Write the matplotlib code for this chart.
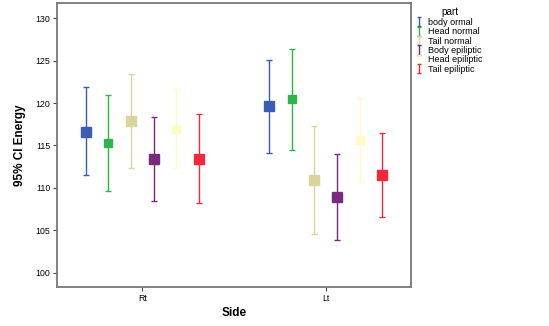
import numpy as np
import matplotlib.pyplot as plt

plt.rcParams['font.family'] = ['Liberation Sans', 'DejaVu Sans']

# categories and series
sides = ["Rt", "Lt"]
parts = ["body ormal", "Head normal", "Tail normal",
         "Body epiliptic", "Head epiliptic", "Tail epiliptic"]

# mean energy per part, for Rt and Lt
means = {
    "body ormal":     [116.6, 119.6],
    "Head normal":    [115.3, 120.5],
    "Tail normal":    [117.9, 110.9],
    "Body epiliptic": [113.4, 108.9],
    "Head epiliptic": [116.9, 115.6],
    "Tail epiliptic": [113.4, 111.5],
}
# 95% CI lower / upper bounds
lower = {
    "body ormal":     [111.5, 114.1],
    "Head normal":    [109.6, 114.5],
    "Tail normal":    [112.3, 104.5],
    "Body epiliptic": [108.4, 103.8],
    "Head epiliptic": [112.3, 110.7],
    "Tail epiliptic": [108.2, 106.5],
}
upper = {
    "body ormal":     [121.9, 125.1],
    "Head normal":    [121.0, 126.4],
    "Tail normal":    [123.4, 117.3],
    "Body epiliptic": [118.4, 114.0],
    "Head epiliptic": [121.7, 120.6],
    "Tail epiliptic": [118.7, 116.5],
}

colors = ["#3b5bb5", "#2fb34c", "#d9d49c", "#7a2a7e", "#fcfcc4", "#f02a3a"]
msizes = [6.5, 5.5, 6.5, 6.5, 5.5, 6.5]

fig = plt.figure(figsize=(5.49, 3.26), dpi=100)
ax = fig.add_axes([57/549, 1-287/326, (411-57)/549, (287-3)/326])

x = np.arange(len(sides))
step = 0.1233
proxies = []
for i, p in enumerate(parts):
    off = (i - 2.5) * step
    m = np.array(means[p])
    lo = m - np.array(lower[p])
    hi = np.array(upper[p]) - m
    ax.errorbar(x + off, m, yerr=[lo, hi], fmt="s", color=colors[i],
                ecolor=colors[i], elinewidth=1.0, capsize=2.5, capthick=1.0,
                markersize=msizes[i])
    # legend proxy: only the error bar glyph
    pr = ax.errorbar([np.nan], [np.nan], yerr=[[1], [1]], fmt="none",
                     ecolor=colors[i], elinewidth=1.0, capsize=1.5,
                     capthick=1.0, label=p)
    proxies.append(pr)

ax.set_xlim(-0.465, 1.465)
ax.set_ylim(98.3, 131.8)
ax.set_yticks([100, 105, 110, 115, 120, 125, 130])
ax.set_xticks(x)
ax.set_xticklabels(sides)
ax.tick_params(labelsize=6.3, length=3, width=0.8, color="#444444", pad=2)

for s in ax.spines.values():
    s.set_color("#777777")
    s.set_linewidth(1.3)

ax.set_ylabel("95% CI Energy", fontsize=8.5, fontweight="bold", labelpad=7)
ax.set_xlabel("Side", fontsize=8.5, fontweight="bold", labelpad=3)

leg = fig.legend(handles=proxies, title="part", loc="upper left",
                 bbox_to_anchor=(410/549, 1.0),
                 fontsize=6.5, title_fontsize=7.2, frameon=False,
                 handlelength=0.5, handleheight=0.6, handletextpad=0.7,
                 labelspacing=0.05, borderaxespad=0.4)

fig.savefig("out.png", dpi=100)
